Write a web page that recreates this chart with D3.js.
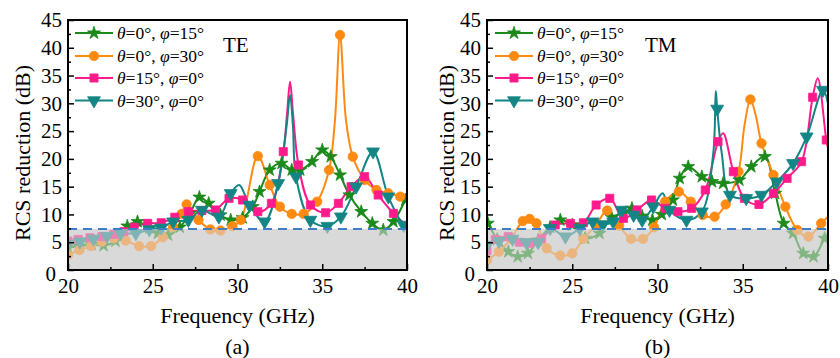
<!DOCTYPE html>
<html><head><meta charset="utf-8">
<script src="https://cdn.jsdelivr.net/npm/d3@7"></script>
<style>
body{margin:0;background:#fff}
svg{display:block}
text{font-family:"Liberation Serif","Times New Roman",serif;fill:#000}
</style></head>
<body><svg id="c" width="840" height="358"></svg>
<script>
// ---------- DATA ([frequency GHz, RCS reduction dB, marker? (0 = no marker)]) ----------
const xTicks = [20, 25, 30, 35, 40];
const xMinorTicks = [22.5, 27.5, 32.5, 37.5];
const yTicks = [0, 5, 10, 15, 20, 25, 30, 35, 40, 45];
const yMinorTicks = [2.5, 7.5, 12.5, 17.5, 22.5, 27.5, 32.5, 37.5, 42.5];
const thresholdDb = 7.4;
const legendTheta = ["0", "0", "15", "30"];
const legendPhi = ["15", "30", "0", "0"];
const panelLabels = ["TE", "TM"];
const subLabels = ["(a)", "(b)"];

const teStar = [[20,4.0],[20.7,4.3],[21.4,4.6],[22.1,4.4],[22.8,5.2],[23.5,7.9],[24.1,8.7],[24.8,7.6],[25.3,6.6],[25.9,6.3],[26.6,7.7],[27.2,10.2],[27.75,13.1],[28.3,12.0],[29.0,9.9],[29.6,9.0],[30.3,9.4],[30.9,11.4],[31.3,14.1],[31.9,18.0],[32.6,19.2],[33.2,18.0],[33.7,18.0],[34.4,19.5],[35.0,21.6],[35.5,20.4],[36.05,17.1],[36.6,13.5],[37.3,10.5],[37.95,8.4],[38.6,7.2],[39.2,8.7],[39.9,12.6],[40,13.2,0]];
const teCircle = [[20,2.7],[20.67,3.6],[21.36,4.3],[22.0,5.1],[22.7,5.7],[23.4,5.3],[24.2,4.3],[24.9,4.3],[25.6,5.9],[26.2,7.7],[26.7,10.1],[27.0,11.8],[27.7,9.0],[28.4,7.3],[29.0,7.1],[29.7,7.9],[30.2,9.0],[31.2,20.5],[31.9,15.3],[32.5,11.4],[33.2,10.1],[33.9,10.1],[34.7,12.3],[35.4,18.0],[35.75,27,0],[36.05,42.3],[36.4,27,0],[36.8,20.4],[37.5,16.2],[38.2,14.4],[38.9,13.8],[39.6,13.2],[40,12.5,0]];
const teSquare = [[20,5.2],[20.6,5.5],[21.3,5.8],[22.0,6.0],[22.7,6.4],[23.3,6.9],[23.9,7.7],[24.7,8.4],[25.5,8.5],[26.3,9.5],[27.1,10.5],[27.9,10.7],[28.7,10.8],[29.5,12.9],[30.3,12.6],[31.2,10.5],[32.0,12.0],[32.7,21.3],[32.92,28,0],[33.1,33.9,0],[33.28,28,0],[33.6,18.9],[34.3,11.7],[35.2,10.3],[35.95,12.0],[36.7,15.0],[37.5,16.8],[38.3,13.5],[39.2,10.2],[40,8.0,0]];
const teTriangle = [[20,4.7],[20.7,5.1],[21.5,5.6],[22.3,6.1],[23.1,6.6],[24.0,6.6],[24.8,7.3],[25.5,7.6],[26.2,8.7],[27.1,9.0],[27.9,10.8],[28.9,9.6],[29.6,13.8],[30.1,15.3,0],[30.7,11.7],[31.6,8.7],[32.4,15.6],[32.9,26,0],[33.1,31.5,0],[33.27,26,0],[33.45,16.8],[34.3,9.0],[35.3,7.9],[36.1,9.6],[37.0,15.0],[38.0,21.3],[38.9,13.2],[39.8,8.1],[40,7.8,0]];

const tmStar = [[20.05,8.4],[20.6,5.5],[21.25,3.3],[21.8,2.4],[22.4,3.0],[23.0,5.4],[23.7,7.7],[24.3,9.0],[25.0,8.1],[25.75,5.7],[26.6,6.6],[27.3,9.5],[28.0,10.2],[28.5,11.1],[29.1,9.7],[29.7,9.0],[30.25,10.0],[30.9,12.6],[31.3,16.5],[31.8,18.6],[32.6,16.8],[33.2,15.9],[33.85,15.6],[34.8,16.2],[35.5,18.6],[36.3,20.4],[36.9,13.8],[37.4,8.4],[37.95,6.6],[38.55,3.0],[39.15,2.4],[39.8,5.7],[40,6.5,0]];
const tmCircle = [[20,1.8],[20.7,3.3],[21.4,5.6],[22.1,8.8],[22.5,9.2],[22.9,8.4],[23.5,3.9],[24.3,2.6],[25.0,3.0],[25.65,5.6],[26.4,8.1],[27.05,10.7],[27.75,8.0],[28.45,5.6],[29.15,5.6],[29.8,7.7],[30.45,12.3],[31.25,14.1],[31.95,12.3],[32.65,9.9],[33.35,9.6],[34.0,11.8],[34.75,17.7],[35.1,26,0],[35.45,30.7],[35.75,28,0],[36.1,22.8],[36.8,17.1],[37.5,11.4],[38.2,7.2],[38.85,6.0],[39.6,8.4],[40,9.6,0]];
const tmSquare = [[20,3.5],[20.5,5.5],[21.25,6.0],[21.9,5.0],[22.5,4.8],[23.2,5.6],[24.0,8.1],[24.9,8.4],[25.65,8.5],[26.4,11.7],[27.2,12.9],[28.0,9.3],[28.8,10.8],[29.65,12.6],[30.45,11.1],[31.2,10.5],[32.0,11.1],[32.8,14.4],[33.55,23.1],[33.85,24.6,0],[34.45,17.7],[35.1,12.9],[35.95,11.8],[36.8,13.8],[37.6,16.5],[38.45,19.5],[39.1,31.1],[39.4,34.5,0],[39.9,23.4],[40,22,0]];
const tmTriangle = [[20,4.5],[20.7,5.2],[21.5,5.6],[22.3,5.0],[23.0,5.0],[23.7,7.5],[24.6,6.0],[25.45,7.5],[26.2,8.7],[26.8,8.2],[27.4,8.7],[27.9,10.8],[28.6,9.9],[29.1,9.0],[29.75,11.4],[30.3,13.8,0],[30.7,10.8],[31.7,9.0],[32.6,10.5],[33.27,21,0],[33.42,32.2,0],[33.5,29.0],[33.77,21,0],[34.25,13.5],[35.2,12.9],[36.1,13.5],[37.0,15.9],[37.95,19.2],[38.75,24.0],[39.7,32.4],[40,30,0]];

// ---------- DRAWING ----------
const svg = d3.select("#c");
const colors = ["#1b8a1b", "#ff8a12", "#ff1a8c", "#148585"];
const symbols = [d3.symbolStar, d3.symbolCircle, d3.symbolSquare, d3.symbolTriangle];
const symSizes = [52, 70, 66, 72];
const symRot = [0, 0, 0, 180];

const panels = [
  {series: [teStar, teCircle, teSquare, teTriangle], left: 68, right: 407, ytitleX: 22.5, legX: 75, labelX: 223},
  {series: [tmStar, tmCircle, tmSquare, tmTriangle], left: 487, right: 828, ytitleX: 446, legX: 495, labelX: 645}
];
const TOP = 20, BOT = 270;

panels.forEach((p, pi) => {
  const x = d3.scaleLinear().domain([20, 40]).range([p.left, p.right]);
  const y = d3.scaleLinear().domain([0, 45]).range([BOT, TOP]);
  const g = svg.append("g");
  const clipId = "clip" + pi;
  svg.append("clipPath").attr("id", clipId).append("rect")
    .attr("x", p.left).attr("y", TOP).attr("width", p.right - p.left).attr("height", BOT - TOP);

  // gray band below threshold
  g.append("rect").attr("x", x(20)).attr("y", y(thresholdDb))
    .attr("width", x(40) - x(20)).attr("height", y(0) - y(thresholdDb)).attr("fill", "#d9d9d9");

  const line = d3.line().x(d => x(d[0])).y(d => y(d[1])).curve(d3.curveCatmullRom.alpha(0.5));
  const plot = g.append("g").attr("clip-path", `url(#${clipId})`);
  p.series.forEach((s, i) => {
    plot.append("path").datum(s).attr("d", line)
      .attr("fill", "none").attr("stroke", colors[i]).attr("stroke-width", 2);
  });
  p.series.forEach((s, i) => {
    const sym = d3.symbol().type(symbols[i]).size(symSizes[i]);
    plot.selectAll(null).data(s.filter(d => d[2] !== 0)).enter().append("path")
      .attr("d", sym)
      .attr("transform", d => `translate(${x(d[0])},${y(d[1])}) rotate(${symRot[i]})`)
      .attr("fill", colors[i]).attr("stroke", colors[i]).attr("stroke-width", 0.8);
  });

  // translucent overlay (fades curves inside gray band)
  g.append("rect").attr("x", x(20)).attr("y", y(thresholdDb))
    .attr("width", x(40) - x(20)).attr("height", y(0) - y(thresholdDb))
    .attr("fill", "#d9d9d9").attr("opacity", 0.55);

  // dashed threshold line
  g.append("line").attr("x1", x(20)).attr("x2", x(40))
    .attr("y1", y(thresholdDb)).attr("y2", y(thresholdDb))
    .attr("stroke", "#3f7dc8").attr("stroke-width", 2).attr("stroke-dasharray", "9,6");

  // axes
  const yAx = g.append("g").attr("transform", `translate(${p.left},0)`)
    .call(d3.axisLeft(y).tickValues(yTicks).tickSizeInner(-6).tickSizeOuter(0).tickPadding(6));
  yAx.select(".domain").remove();
  yAx.selectAll("text").style("font-size", "21px")
    .attr("dy", d => d === 0 ? "0.5em" : "0.32em")
    .attr("dx", d => d === 0 ? "-6" : "0");
  g.append("g").attr("transform", `translate(${p.left},0)`)
    .call(d3.axisLeft(y).tickValues(yMinorTicks).tickSizeInner(-3).tickSizeOuter(0).tickFormat(""))
    .select(".domain").remove();

  const xAx = g.append("g").attr("transform", `translate(0,${BOT})`)
    .call(d3.axisBottom(x).tickValues(xTicks).tickSizeInner(-6).tickSizeOuter(0).tickPadding(8));
  xAx.select(".domain").remove();
  xAx.selectAll("text").style("font-size", "21px");
  g.append("g").attr("transform", `translate(0,${BOT})`)
    .call(d3.axisBottom(x).tickValues(xMinorTicks).tickSizeInner(-3).tickSizeOuter(0).tickFormat(""))
    .select(".domain").remove();
  g.selectAll(".tick line").attr("stroke", "#000").attr("stroke-width", 1.5);

  // frame
  g.append("rect").attr("x", p.left).attr("y", TOP).attr("width", p.right - p.left).attr("height", BOT - TOP)
    .attr("fill", "none").attr("stroke", "#000").attr("stroke-width", 2);

  // titles
  g.append("text").attr("transform", `translate(${p.ytitleX},${(TOP + BOT) / 2 + 8}) rotate(-90)`)
    .attr("text-anchor", "middle").attr("dominant-baseline", "central").style("font-size", "22px")
    .text("RCS reduction (dB)");
  const cx = (p.left + p.right) / 2;
  g.append("text").attr("x", cx).attr("y", 315).attr("text-anchor", "middle")
    .attr("dominant-baseline", "central").style("font-size", "22px").text("Frequency (GHz)");
  g.append("text").attr("x", cx).attr("y", 346).attr("text-anchor", "middle")
    .attr("dominant-baseline", "central").style("font-size", "22px").text(subLabels[pi]);
  g.append("text").attr("x", p.labelX).attr("y", 45).attr("dominant-baseline", "central")
    .style("font-size", "21px").text(panelLabels[pi]);

  // legend
  const rowY = [33, 56, 78, 100.5];
  legendTheta.forEach((th, i) => {
    const ly = rowY[i];
    g.append("line").attr("x1", p.legX).attr("x2", p.legX + 38).attr("y1", ly).attr("y2", ly)
      .attr("stroke", colors[i]).attr("stroke-width", 2);
    g.append("path").attr("d", d3.symbol().type(symbols[i]).size(symSizes[i])())
      .attr("transform", `translate(${p.legX + 19},${ly}) rotate(${symRot[i]})`)
      .attr("fill", colors[i]).attr("stroke", colors[i]).attr("stroke-width", 0.8);
    const t = g.append("text").attr("x", p.legX + 42).attr("y", ly)
      .attr("dominant-baseline", "central").style("font-size", "17.5px");
    t.append("tspan").style("font-style", "italic").text("θ");
    t.append("tspan").text("=" + th + "°, ");
    t.append("tspan").style("font-style", "italic").text("φ");
    t.append("tspan").text("=" + legendPhi[i] + "°");
  });
});
</script></body></html>
